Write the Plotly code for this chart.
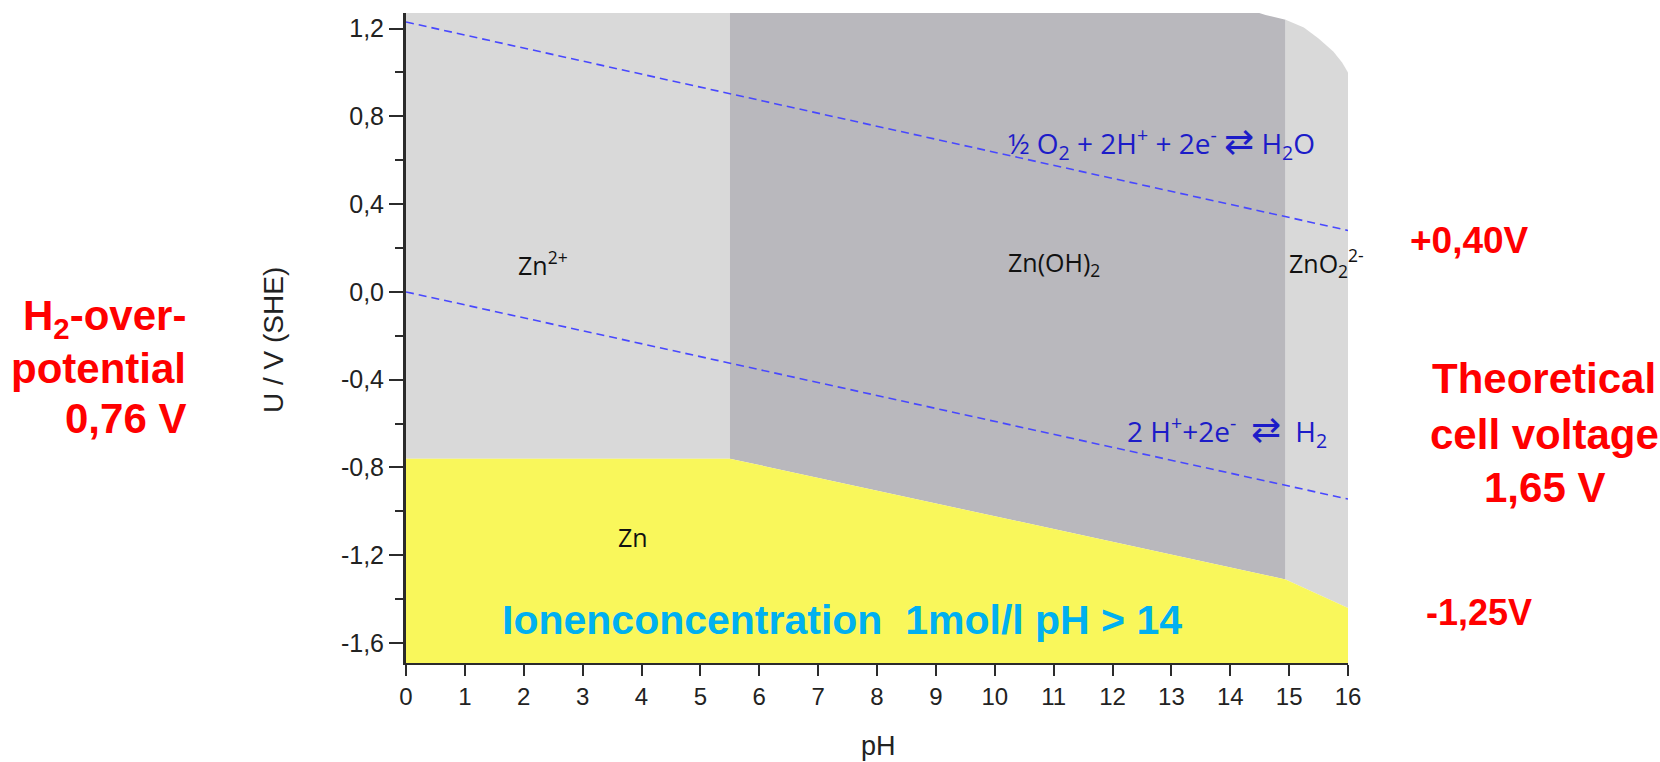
import plotly.graph_objects as go

# ---------------- data ----------------
# Pourbaix diagram of zinc: region boundaries (pH, U in V vs SHE)
zn2_ph = [0, 5.5, 5.5, 0]
zn2_u = [-0.76, -0.76, 1.30, 1.30]

znoh2_ph = [5.5, 14.94, 14.94, 14.6, 14.15, 5.5]
znoh2_u = [-0.76, -1.31, 1.240, 1.262, 1.30, 1.30]

zno2_ph = [14.94, 16.0, 16.0, 15.9, 15.75, 15.5, 15.25, 14.94]
zno2_u = [-1.31, -1.44, 1.00, 1.045, 1.095, 1.155, 1.205, 1.240]

zn_ph = [0, 5.5, 14.94, 16.0, 16.0, 0]
zn_u = [-0.76, -0.76, -1.31, -1.44, -1.75, -1.75]

# water stability lines
o2_ph = [0, 16]
o2_u = [1.23, 0.28]
h2_ph = [0, 16]
h2_u = [0.0, -0.944]

x_tick_vals = list(range(0, 17))
x_tick_text = [str(v) for v in x_tick_vals]
y_tick_vals = [-1.6, -1.2, -0.8, -0.4, 0.0, 0.4, 0.8, 1.2]
y_tick_text = ["-1,6", "-1,2", "-0,8", "-0,4", "0,0", "0,4", "0,8", "1,2"]

region_labels = ["Zn<sup>2+</sup>", "Zn(OH)<sub>2</sub>", "ZnO<sub>2</sub><sup>2-</sup>", "Zn"]
ARROW = "\u00a0<span style=\"font-size:36px\">\u21c4</span>\u00a0"
o2_reaction = "½ O<sub>2</sub> + 2H<sup>+</sup> + 2e<sup>-</sup>" + ARROW + "H<sub>2</sub>O"
h2_reaction = "2 H<sup>+</sup>+2e<sup>-</sup>\u00a0" + ARROW + "\u00a0H<sub>2</sub>"
concentration_note = "Ionenconcentration\u00a0\u00a01mol/l pH > 14"
left_note = ["H<sub>2</sub>-over-", "potential", "0,76 V"]
right_top = "+0,40V"
right_note = ["Theoretical", "cell voltage", "1,65 V"]
right_bottom = "-1,25V"
x_title = "pH"
y_title = "U / V (SHE)"

# ---------------- styles ----------------
LIGHT = "#d9d9d9"
DARK = "#b9b8bd"
YELLOW = "#f9f75b"
DASH_BLUE = "#4848ff"
TEXT_BLUE = "#1c1cc8"
RED = "#ff0000"
CYAN = "#00b0f0"
AX = "#2b2b2b"
SANS = "Liberation Sans, Arial, sans-serif"
HUM = "Open Sans, Noto Sans, sans-serif"

fig = go.Figure()


def region(xs, ys, color, name):
    fig.add_trace(go.Scatter(x=xs, y=ys, fill="toself", fillcolor=color, mode="lines",
                             line=dict(width=0, color=color), name=name,
                             hoverinfo="name", showlegend=False))


region(zn2_ph, zn2_u, LIGHT, "Zn2+")
region(znoh2_ph, znoh2_u, DARK, "Zn(OH)2")
region(zno2_ph, zno2_u, LIGHT, "ZnO2 2-")
region(zn_ph, zn_u, YELLOW, "Zn")

for xs, ys, nm in [(o2_ph, o2_u, "O2/H2O"), (h2_ph, h2_u, "H+/H2")]:
    fig.add_trace(go.Scatter(x=xs, y=ys, mode="lines", name=nm, showlegend=False,
                             line=dict(color=DASH_BLUE, width=1.6, dash="8px,5px")))

ann = []
# region labels
ann.append(dict(x=1.87, y=0.13, xref="x", yref="y", text=region_labels[0], xanchor="left",
                yanchor="middle", showarrow=False, font=dict(family=HUM, size=25, color="#111")))
ann.append(dict(x=10.19, y=0.13, xref="x", yref="y", text=region_labels[1], xanchor="left",
                yanchor="middle", showarrow=False, font=dict(family=HUM, size=25, color="#111")))
ann.append(dict(x=14.97, y=0.13, xref="x", yref="y", text=region_labels[2], xanchor="left",
                yanchor="middle", showarrow=False, font=dict(family=HUM, size=25, color="#111")))
ann.append(dict(x=3.86, y=-1.118, xref="x", yref="y", text=region_labels[3], xanchor="center",
                yanchor="middle", showarrow=False, font=dict(family=HUM, size=25, color="#111")))
# reactions
ann.append(dict(x=10.19, y=0.687, xref="x", yref="y", text=o2_reaction, xanchor="left",
                yanchor="middle", showarrow=False, font=dict(family=HUM, size=28, color=TEXT_BLUE)))
ann.append(dict(x=12.21, y=-0.626, xref="x", yref="y", text=h2_reaction, xanchor="left",
                yanchor="middle", showarrow=False, font=dict(family=HUM, size=28, color=TEXT_BLUE)))
# concentration note
ann.append(dict(x=7.41, y=-1.493, xref="x", yref="y", text="<b>" + concentration_note + "</b>",
                xanchor="center", yanchor="middle", showarrow=False,
                font=dict(family=SANS, size=41, color=CYAN)))

# paper coordinates from pixel positions
L, T, W, H = 406, 13, 942, 650


def px(xp):
    return (xp - L) / W


def py(yp):
    return (T + H - yp) / H


for txt, yp in zip(left_note, [318, 368, 418]):
    ann.append(dict(x=px(188), y=py(yp), xref="paper", yref="paper", text="<b>" + txt + "</b>",
                    xanchor="right", yanchor="middle", showarrow=False,
                    font=dict(family=SANS, size=42, color=RED)))
for txt, yp in zip(right_note, [379, 434, 487]):
    ann.append(dict(x=px(1544), y=py(yp), xref="paper", yref="paper", text="<b>" + txt + "</b>",
                    xanchor="center", yanchor="middle", showarrow=False,
                    font=dict(family=SANS, size=42, color=RED)))
ann.append(dict(x=px(1408), y=py(241), xref="paper", yref="paper", text="<b>" + right_top + "</b>",
                xanchor="left", yanchor="middle", showarrow=False,
                font=dict(family=SANS, size=37, color=RED)))
ann.append(dict(x=px(1424), y=py(612), xref="paper", yref="paper", text="<b>" + right_bottom + "</b>",
                xanchor="left", yanchor="middle", showarrow=False,
                font=dict(family=SANS, size=36, color=RED)))
# axis titles
ann.append(dict(x=px(878), y=py(746), xref="paper", yref="paper", text=x_title,
                xanchor="center", yanchor="middle", showarrow=False,
                font=dict(family=SANS, size=27, color="#222")))
ann.append(dict(x=px(273), y=py(340), xref="paper", yref="paper", text=y_title, textangle=-90,
                xanchor="center", yanchor="middle", showarrow=False,
                font=dict(family=SANS, size=28, color="#222")))

fig.update_layout(
    width=1660, height=762,
    margin=dict(l=L, r=1660 - L - W, t=T, b=762 - T - H),
    paper_bgcolor="white", plot_bgcolor="white",
    annotations=ann,
    showlegend=False,
    xaxis=dict(range=[0, 16], tickvals=x_tick_vals, ticktext=x_tick_text,
               ticks="outside", ticklen=11, tickwidth=2, tickcolor=AX,
               showline=True, linewidth=2, linecolor=AX, showgrid=False, zeroline=False,
               tickfont=dict(family=SANS, size=24, color="#222"), ticklabelstandoff=0),
    yaxis=dict(range=[-1.691, 1.271], tickvals=y_tick_vals, ticktext=y_tick_text,
               ticks="outside", ticklen=14, tickwidth=2, tickcolor=AX,
               minor=dict(tick0=0, dtick=0.2, ticks="outside", ticklen=8, tickwidth=2, tickcolor=AX),
               showline=True, linewidth=3, linecolor=AX, showgrid=False, zeroline=False,
               tickfont=dict(family=SANS, size=25, color="#222"), ticklabelstandoff=0),
)

fig.write_html("out.html")
